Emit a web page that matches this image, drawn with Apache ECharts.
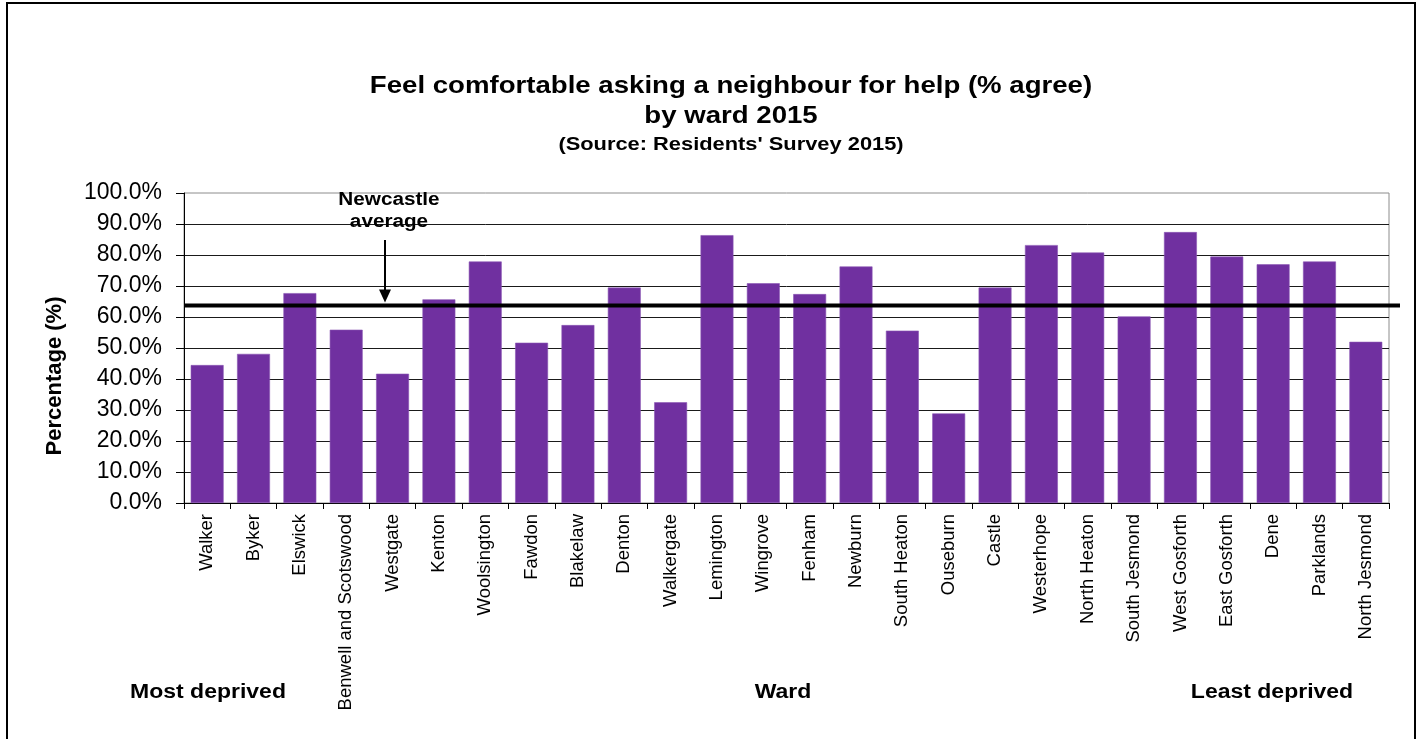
<!DOCTYPE html>
<html>
<head>
<meta charset="utf-8">
<script src="https://cdn.jsdelivr.net/npm/echarts@6/dist/echarts.min.js"></script>
<style>
  html, body { margin: 0; padding: 0; background: #fff; }
  #chart { width: 1421px; height: 739px; }
</style>
</head>
<body>
<div id="chart"></div>
<script>
// Wards ordered from most to least deprived
const wards = [
  'Walker', 'Byker', 'Elswick', 'Benwell and Scotswood', 'Westgate', 'Kenton',
  'Woolsington', 'Fawdon', 'Blakelaw', 'Denton', 'Walkergate', 'Lemington',
  'Wingrove', 'Fenham', 'Newburn', 'South Heaton', 'Ouseburn', 'Castle',
  'Westerhope', 'North Heaton', 'South Jesmond', 'West Gosforth', 'East Gosforth',
  'Dene', 'Parklands', 'North Jesmond'
];

// % agreeing they feel comfortable asking a neighbour for help
const agreePct = [
  44.5, 48.1, 67.7, 55.9, 41.7, 65.7,
  77.9, 51.7, 57.4, 69.5, 32.5, 86.4,
  70.9, 67.4, 76.3, 55.6, 28.9, 69.5,
  83.2, 80.8, 60.2, 87.4, 79.5,
  77.0, 77.9, 52.0
];

// City-wide figure drawn as a reference line
const newcastleAverage = 63.7;

// Percentage axis range and step
const yMin = 0;
const yMax = 100;
const yStep = 10;

const FONT = '"Liberation Sans", Arial, Helvetica, sans-serif';
const STRETCH = 1.15;

const chart = echarts.init(document.getElementById('chart'), null, { renderer: 'canvas' });

chart.setOption({
  backgroundColor: '#ffffff',
  animation: false,
  textStyle: { fontFamily: FONT },
  grid: [
    { left: 184, right: 32, top: 193, bottom: 236, show: true, borderColor: '#8c8c8c', borderWidth: 1 },
    { left: 184, right: 21, top: 193, bottom: 236 }
  ],
  xAxis: [
    {
      type: 'category',
      gridIndex: 0,
      data: wards,
      axisLine: { lineStyle: { color: '#000', width: 1 } },
      axisTick: { show: true, length: 6, lineStyle: { color: '#000' } },
      axisLabel: {
        rotate: 90, interval: 0, margin: 11,
        fontSize: 18.5, color: '#000', fontFamily: FONT
      },
      splitLine: { show: false }
    },
    {
      type: 'category',
      gridIndex: 1,
      data: ['start', 'end'],
      boundaryGap: false,
      show: false
    }
  ],
  yAxis: [
    {
      type: 'value',
      gridIndex: 0,
      min: yMin, max: yMax, interval: yStep,
      axisLine: { show: true, lineStyle: { color: '#000', width: 1 } },
      axisTick: { show: true, length: 8, lineStyle: { color: '#000' } },
      axisLabel: {
        margin: 22, fontSize: 23, color: '#000', fontFamily: FONT,
        formatter: v => v.toFixed(1) + '%'
      },
      splitLine: { show: true, showMaxLine: false, lineStyle: { color: '#1a1a1a', width: 1 } }
    },
    {
      type: 'value',
      gridIndex: 1,
      min: yMin, max: yMax,
      show: false
    }
  ],
  series: [
    {
      name: 'Feel comfortable asking a neighbour for help',
      type: 'bar',
      xAxisIndex: 0, yAxisIndex: 0,
      data: agreePct,
      barCategoryGap: '29%',
      itemStyle: { color: '#7030a0', borderColor: '#8a55b4', borderWidth: 0.6 },
      z: 2
    },
    {
      name: 'Newcastle average',
      type: 'line',
      xAxisIndex: 1, yAxisIndex: 1,
      data: [newcastleAverage, newcastleAverage],
      showSymbol: false,
      symbol: 'none',
      lineStyle: { color: '#000', width: 4 },
      z: 5
    }
  ]
});

// Annotations: frame, titles, side captions and the pointer to the average line
const avgY = chart.convertToPixel({ yAxisIndex: 0 }, newcastleAverage);
const arrowX = 385;

function label(text, x, y, size, extra) {
  return Object.assign({
    type: 'text', x: x, y: y, scaleX: STRETCH, z: 100,
    style: {
      text: text, fill: '#000',
      font: 'bold ' + size + 'px ' + FONT,
      textAlign: 'center', textVerticalAlign: 'middle'
    }
  }, extra || {});
}

chart.setOption({
  graphic: [
    {
      type: 'rect', z: 100, silent: true,
      shape: { x: 7, y: 3, width: 1408, height: 760 },
      style: { fill: 'none', stroke: '#000', lineWidth: 2 }
    },
    label('Feel comfortable asking a neighbour for help (% agree)', 731, 86, 24),
    label('by ward 2015', 731, 116, 24),
    label("(Source: Residents' Survey 2015)", 731, 145, 19),
    label('Most deprived', 208, 692, 20),
    label('Ward', 783, 692, 20),
    label('Least deprived', 1272, 692, 20),
    label('Newcastle', 389, 200, 18),
    label('average', 389, 222, 18),
    {
      type: 'text', x: 55, y: 376, rotation: Math.PI / 2, z: 100,
      style: {
        text: 'Percentage (%)', fill: '#000',
        font: 'bold 22px ' + FONT,
        textAlign: 'center', textVerticalAlign: 'middle'
      }
    },
    {
      type: 'line', z: 100,
      shape: { x1: arrowX, y1: 240, x2: arrowX, y2: avgY - 14 },
      style: { stroke: '#000', lineWidth: 2 }
    },
    {
      type: 'polygon', z: 100,
      shape: { points: [[arrowX - 6, avgY - 16], [arrowX + 6, avgY - 16], [arrowX, avgY - 3]] },
      style: { fill: '#000' }
    }
  ]
});
</script>
</body>
</html>
